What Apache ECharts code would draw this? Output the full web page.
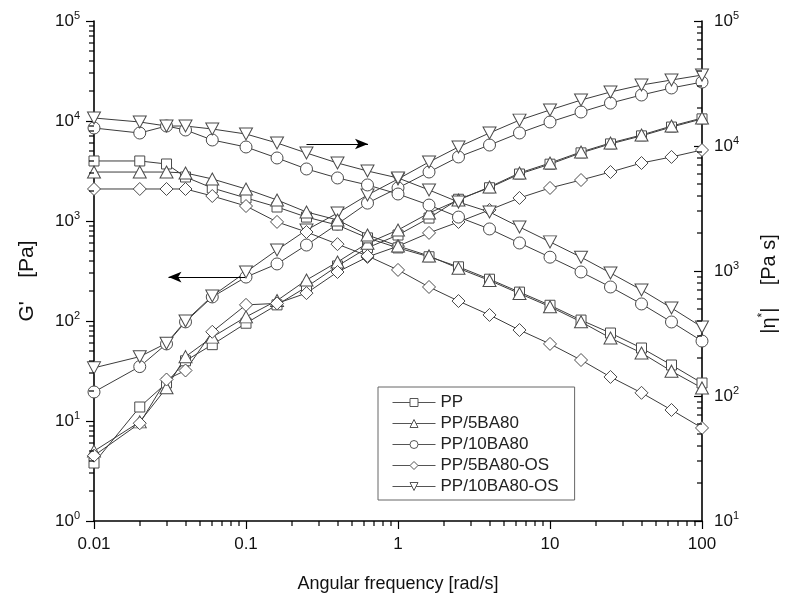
<!DOCTYPE html>
<html><head><meta charset="utf-8">
<script src="https://cdn.jsdelivr.net/npm/echarts@6/dist/echarts.min.js"></script>
<style>html,body{margin:0;padding:0;background:#fff}#c{width:787px;height:602px}</style>
</head><body><div id="c"></div>
<script>
// ---- data ----
const freq = [0.01,0.02,0.03,0.04,0.06,0.1,0.16,0.25,0.4,0.63,1,1.6,2.5,4,6.3,10,16,25,40,63,100];
const seriesNames = ['PP','PP/5BA80','PP/10BA80','PP/5BA80-OS','PP/10BA80-OS'];
// storage modulus G' [Pa] (left axis)
const gPP       = [3.8,13.8,24,40,58,95,145,219,355,540,724,1070,1650,2150,2950,3700,4800,5900,7100,8700,10500];
const g5BA80    = [5.0,9.8,21.5,44,69,110,160,257,389,600,813,1200,1620,2190,3020,3800,4900,6030,7240,8900,10700];
const g10BA80   = [19.5,35,59,98,174,275,372,575,933,1510,2140,3090,4370,5750,7590,9770,12300,15100,18200,21400,24500];
const g5BA80OS  = [4.5,9.5,26,32,78,145,150,190,309,437,560,760,977,1290,1700,2140,2570,3090,3800,4370,5130];
const g10BA80OS = [34,44,60,100,178,309,513,813,1200,1820,2630,3890,5500,7590,10200,12900,16200,19500,22900,25700,28800];
// complex viscosity |eta*| [Pa s] (right axis)
const etaPP       = [7590,7590,7180,5650,4610,3840,3250,2700,2330,1840,1530,1300,1080,860,678,532,405,319,242,177,127];
const eta5BA80    = [6190,6190,6190,6080,5450,4530,3700,2965,2560,1940,1585,1320,1050,840,660,518,392,291,221,158,116];
const eta10BA80   = [13930,12700,14450,13430,11170,9820,8020,6550,5550,4880,4130,3370,2700,2170,1675,1290,982,745,545,391,275];
const eta5BA80OS  = [4530,4530,4530,4530,3980,3310,2470,2050,1640,1320,1020,745,575,445,337,261,194,142,106,77.3,55.5];
const eta10BA80OS = [16750,15560,14450,14450,13680,12470,10570,8790,7310,6310,5550,4450,3560,2965,2250,1710,1290,964,705,506,356];
// axes
const xRange = [0.01, 100];
const leftRange = [1, 100000];
const rightRange = [10, 100000];
// annotation arrows (data space of G' axis)
const arrowRight = [[0.25, 5890], [0.635, 5890]];
const arrowLeft  = [[0.0986, 275], [0.0309, 275]];

// ---- helpers ----
function minorVals(lo, hi) {
  const out = [];
  for (let e = Math.round(Math.log10(lo)); e < Math.round(Math.log10(hi)); e++) {
    for (let m = 2; m <= 9; m++) out.push(+(m * Math.pow(10, e)).toPrecision(3));
  }
  return out;
}
const FONT = '"Liberation Sans", Arial, sans-serif';
const LINE = '#3c3c3c';
const symbols = [
  {symbol: 'rect', size: 10},
  {symbol: 'path://M6,0L12,11L0,11Z', size: [13, 12]},
  {symbol: 'circle', size: 12},
  {symbol: 'diamond', size: 13},
  {symbol: 'path://M0,0L12,0L6,11Z', size: [13, 12]}
];
const gData = [gPP, g5BA80, g10BA80, g5BA80OS, g10BA80OS];
const etaData = [etaPP, eta5BA80, eta10BA80, eta5BA80OS, eta10BA80OS];

function mkSeries(i, vals, yIdx) {
  return {
    name: seriesNames[i], type: 'line', xAxisIndex: 0, yAxisIndex: yIdx,
    data: freq.map((f, k) => [f, vals[k]]),
    symbol: symbols[i].symbol, symbolSize: symbols[i].size, showSymbol: true,
    lineStyle: {color: LINE, width: 1},
    itemStyle: {color: '#fff', borderColor: '#4a4a4a', borderWidth: 1},
    emphasis: {disabled: true}, z: 3
  };
}
const series = [];
for (let i = 0; i < 5; i++) series.push(mkSeries(i, gData[i], 0));
for (let i = 0; i < 5; i++) series.push(mkSeries(i, etaData[i], 1));
series[0].markLine = {
  silent: true, animation: false, label: {show: false},
  symbol: ['none', 'arrow'], symbolSize: [8, 13],
  lineStyle: {color: '#000', width: 1, type: 'solid'},
  data: [
    [{coord: arrowRight[0]}, {coord: arrowRight[1]}],
    [{coord: arrowLeft[0]}, {coord: arrowLeft[1]}]
  ]
};

const powFmt = v => '{b|10}{s|' + Math.round(Math.log10(v)) + '}';
const powRich = {
  b: {fontSize: 17, fontFamily: FONT, color: '#111', lineHeight: 22},
  s: {fontSize: 11, fontFamily: FONT, color: '#111', verticalAlign: 'top', lineHeight: 22}
};
const axisLine = {show: true, onZero: false, lineStyle: {color: '#000', width: 1.6}};

const option = {
  animation: false,
  backgroundColor: '#fff',
  grid: {left: 94, right: 74, top: 21, bottom: 81, containLabel: false},
  legend: {
    data: seriesNames, orient: 'vertical', left: 378, top: 387,
    itemWidth: 43, itemHeight: 10, itemGap: 4,
    padding: [7, 16, 5, 14],
    borderColor: '#666', borderWidth: 1, backgroundColor: '#fff',
    lineStyle: {width: 1, color: '#555'},
    itemStyle: {color: '#fff', borderColor: '#555', borderWidth: 1},
    textStyle: {fontSize: 17, lineHeight: 17, fontFamily: FONT, color: '#222'},
    selectedMode: false
  },
  xAxis: [{
    type: 'log', logBase: 10, min: xRange[0], max: xRange[1], position: 'bottom',
    axisLine: axisLine,
    axisTick: {show: true, length: 8, lineStyle: {color: '#000', width: 1.2}},
    axisLabel: {fontSize: 17, fontFamily: FONT, color: '#111', margin: 15,
                formatter: v => String(+(+v).toPrecision(2))},
    splitLine: {show: false},
    name: 'Angular frequency [rad/s]', nameLocation: 'middle', nameGap: 54,
    nameTextStyle: {fontSize: 18, fontFamily: FONT, color: '#111'}
  }],
  yAxis: [{
    type: 'log', logBase: 10, min: leftRange[0], max: leftRange[1], position: 'left',
    axisLine: axisLine,
    axisTick: {show: true, length: 8, lineStyle: {color: '#000', width: 1.2}},
    axisLabel: {formatter: powFmt, rich: powRich, margin: 14},
    splitLine: {show: false},
    name: "G'    [Pa]", nameLocation: 'middle', nameGap: 56, nameRotate: 90,
    nameTextStyle: {fontSize: 21, fontFamily: FONT, color: '#111', padding: [0, 20, 0, 0]}
  }, {
    type: 'log', logBase: 10, min: rightRange[0], max: rightRange[1], position: 'right',
    axisLine: axisLine,
    axisTick: {show: true, inside: true, length: 8, lineStyle: {color: '#000', width: 1.2}},
    axisLabel: {formatter: powFmt, rich: powRich, margin: 12},
    splitLine: {show: false},
    name: '{t||η}{u|*}{t||    [Pa s]}', nameLocation: 'middle', nameGap: 55, nameRotate: 90,
    nameTextStyle: {fontSize: 20, fontFamily: FONT, color: '#111', padding: [0, 26, 0, 0],
      rich: {t: {fontSize: 20, fontFamily: FONT, color: '#111', lineHeight: 24},
             u: {fontSize: 12, fontFamily: FONT, color: '#111', verticalAlign: 'top', lineHeight: 24}}}
  }],
  series: series
};
const chart = echarts.init(document.getElementById('c'));
chart.setOption(option);

// minor (2..9) ticks placed through the axes' own log scales
const gfx = [];
const yBottom = chart.convertToPixel({yAxisIndex: 0}, leftRange[0]);
const xLeft = chart.convertToPixel({xAxisIndex: 0}, xRange[0]);
const xRight = chart.convertToPixel({xAxisIndex: 0}, xRange[1]);
function tick(x1, y1, x2, y2) {
  gfx.push({type: 'line', silent: true, z: 100,
            shape: {x1: x1, y1: y1, x2: x2, y2: y2},
            style: {stroke: '#000', lineWidth: 1.2}});
}
minorVals(xRange[0], xRange[1]).forEach(v => {
  const px = Math.round(chart.convertToPixel({xAxisIndex: 0}, v));
  tick(px, yBottom, px, yBottom + 5);
});
minorVals(leftRange[0], leftRange[1]).forEach(v => {
  const py = Math.round(chart.convertToPixel({yAxisIndex: 0}, v));
  tick(xLeft - 5, py, xLeft, py);
});
minorVals(rightRange[0], rightRange[1]).forEach(v => {
  const py = Math.round(chart.convertToPixel({yAxisIndex: 1}, v));
  tick(xRight - 5, py, xRight, py);
});
chart.setOption({graphic: gfx});
</script></body></html>
